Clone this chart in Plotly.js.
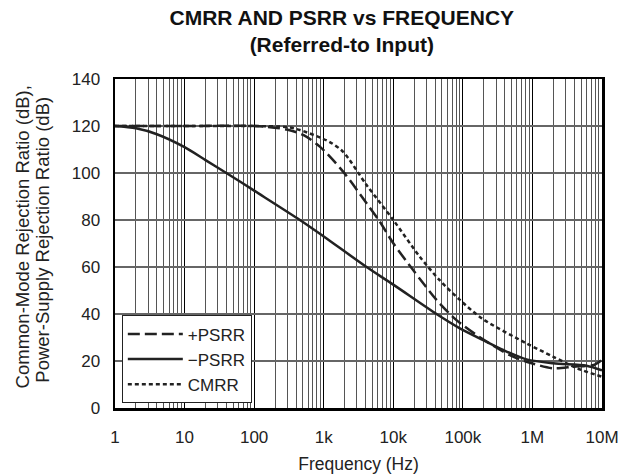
<!DOCTYPE html>
<html>
<head>
<meta charset="utf-8">
<script src="https://cdn.plot.ly/plotly-3.0.1.min.js"></script>
<style>html,body{margin:0;padding:0;background:#fff;}#chart{width:626px;height:476px;}</style>
</head>
<body>
<div id="chart"></div>
<script>
// Data
var plusPsrrFreq = [1, 10, 100, 294, 507, 880, 1900, 4130, 6400, 10000, 19300, 41800, 81000, 178000, 474000, 823000, 2000000, 3900000, 7600000, 10000000];
var plusPsrrDb   = [120, 120, 120, 118.5, 116.2, 111.2, 100.6, 87.1, 79.3, 70.1, 58.7, 46, 37.4, 30, 22.5, 19.7, 16.9, 17.6, 18.3, 20.5];

var minusPsrrFreq = [1, 2, 4, 10, 20, 42, 100, 455, 1000, 4130, 10000, 41800, 90600, 196000, 380000, 823000, 2000000, 6000000, 10000000];
var minusPsrrDb   = [120, 119, 116.5, 111, 105.5, 99.6, 92.5, 80, 73, 60, 52.5, 40, 33.9, 28.9, 24.7, 20.7, 19, 18, 16];

var cmrrFreq = [1, 10, 100, 300, 455, 1200, 1900, 4130, 10000, 24000, 46000, 90600, 190000, 823000, 2000000, 4400000, 10000000];
var cmrrDb   = [120, 120, 120, 119.5, 118.3, 113.3, 109, 94.9, 80, 64.4, 54.5, 46, 38, 27.5, 21.8, 16.9, 13.3];

var xTickVals = [1, 10, 100, 1000, 10000, 100000, 1000000, 10000000];
var xTickText = ['1', '10', '100', '1k', '10k', '100k', '1M', '10M'];
var yTickVals = [0, 20, 40, 60, 80, 100, 120, 140];

var seriesNames = ['+PSRR', '\u2212PSRR', 'CMRR'];
var yTitleLines = ['Common-Mode Rejection Ratio (dB),', 'Power-Supply Rejection Ratio (dB)'];

// minor gridline positions (2..9 within each decade)
var minorVals = [];
for (var d = 0; d < 7; d++) {
  for (var m = 2; m <= 9; m++) minorVals.push(m * Math.pow(10, d));
}

var FONT = 'Liberation Sans, Arial, Helvetica, sans-serif';

var traces = [
  {x: plusPsrrFreq, y: plusPsrrDb, name: seriesNames[0], mode: 'lines',
   line: {color: '#222', width: 2.5, dash: '12px,5px', shape: 'spline', smoothing: 0.8}},
  {x: minusPsrrFreq, y: minusPsrrDb, name: seriesNames[1], mode: 'lines',
   line: {color: '#222', width: 2.5, shape: 'spline', smoothing: 0.8}},
  {x: cmrrFreq, y: cmrrDb, name: seriesNames[2], mode: 'lines',
   line: {color: '#222', width: 2.5, dash: '4px,3px', shape: 'spline', smoothing: 0.8}}
];

var layout = {
  width: 626, height: 476,
  margin: {l: 115, r: 24, t: 79, b: 68},
  paper_bgcolor: '#fff', plot_bgcolor: '#fff',
  font: {family: FONT, color: '#222', size: 17},
  title: {text: '<b>CMRR AND PSRR vs FREQUENCY</b><br><b>(Referred-to Input)</b>',
          x: 0.546, xanchor: 'center', y: 0.948, yanchor: 'top',
          font: {family: FONT, size: 21, color: '#111'}},
  xaxis: {
    type: 'log', range: [0, 7],
    tickmode: 'array', tickvals: xTickVals, ticktext: xTickText,
    showgrid: true, gridcolor: '#000', gridwidth: 1,
    minor: {tickmode: 'array', tickvals: minorVals, showgrid: true, gridcolor: '#555', gridwidth: 1, ticks: ''},
    showline: true, linecolor: '#000', linewidth: 2.5, mirror: true,
    ticks: '', zeroline: false, ticklabelstandoff: 12,
    tickfont: {family: FONT, size: 17, color: '#222'},
    title: {text: 'Frequency (Hz)', font: {family: FONT, size: 17.5, color: '#222'}, standoff: 12}
  },
  yaxis: {
    range: [0, 140],
    tickmode: 'array', tickvals: yTickVals,
    showgrid: true, gridcolor: '#666', gridwidth: 1.2,
    showline: true, linecolor: '#000', linewidth: 2.5, mirror: true,
    ticks: '', zeroline: false, ticklabelstandoff: 9,
    tickfont: {family: FONT, size: 17, color: '#222'}
  },
  annotations: [
    {text: yTitleLines[0], xref: 'paper', yref: 'paper', x: (22.5 - 115) / 487, y: 0.52,
     xanchor: 'center', yanchor: 'middle', textangle: -90, showarrow: false,
     font: {family: FONT, size: 18.5, color: '#222'}},
    {text: yTitleLines[1], xref: 'paper', yref: 'paper', x: (42.5 - 115) / 487, y: 0.51,
     xanchor: 'center', yanchor: 'middle', textangle: -90, showarrow: false,
     font: {family: FONT, size: 18.5, color: '#222'}}
  ],
  showlegend: true,
  legend: {x: 0.014, y: 0.014, xanchor: 'left', yanchor: 'bottom',
           bgcolor: '#fff', bordercolor: '#222', borderwidth: 1, itemwidth: 55,
           font: {family: FONT, size: 17, color: '#222'}}
};

Plotly.newPlot('chart', traces, layout, {staticPlot: true, displayModeBar: false});
</script>
</body>
</html>
